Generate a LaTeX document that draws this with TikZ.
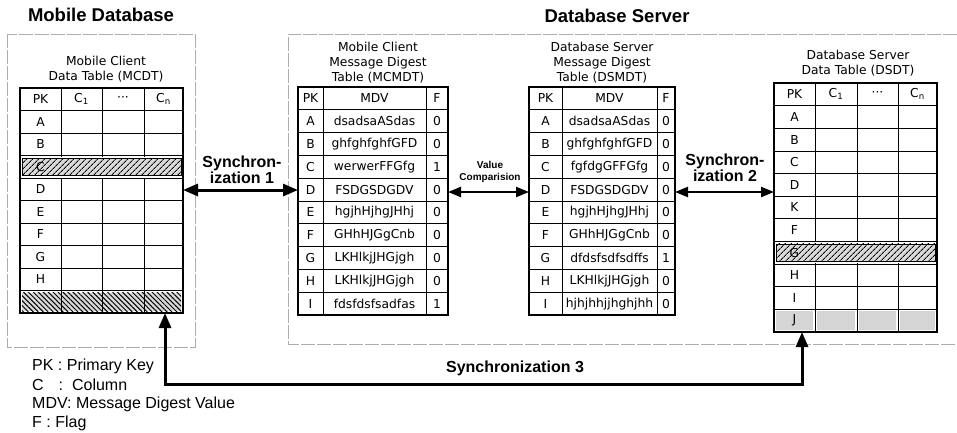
\documentclass[tikz,border=0pt]{standalone}
\usepackage{fontspec}
\setmainfont{Liberation Sans}
\newfontfamily\cellfont{DejaVu Sans}
\usetikzlibrary{arrows.meta,patterns.meta}

\begin{document}
\begin{tikzpicture}[x=1pt,y=-1pt,
  tblframe/.style={draw, line width=2.3pt, inner sep=0pt, outer sep=0pt, anchor=north west},
  tblrule/.style={line width=0.8pt},
  cellt/.style={font=\cellfont\fontsize{12.3}{13}\selectfont, inner sep=0pt},
  capt/.style={font=\cellfont\fontsize{12.3}{15}\selectfont, align=center, inner sep=0pt},
  zone/.style={draw=gray!65, line width=0.8pt, dash pattern=on 14pt off 2pt},
  heading/.style={font=\bfseries\fontsize{18.5}{21}\selectfont, inner sep=0pt},
  synclbl/.style={font=\bfseries\fontsize{16}{16.5}\selectfont, align=center, inner sep=0pt},
  smalllbl/.style={font=\bfseries\fontsize{10}{12}\selectfont, align=center, inner sep=0pt},
  legend/.style={font=\fontsize{16}{19}\selectfont, inner sep=0pt, anchor=west},
  syncarrow/.style={line width=3pt, {Triangle[length=15pt,width=12pt]}-{Triangle[length=15pt,width=12pt]}},
  thinarrow/.style={line width=2.2pt, {Triangle[length=13pt,width=10pt]}-{Triangle[length=13pt,width=10pt]}},
  bandfill/.style={fill=gray!30},
  hatchup/.style={pattern={Lines[angle=45,distance=4pt,line width=0.9pt]}},
  hatchdown/.style={pattern={Lines[angle=-45,distance=3.5pt,line width=1pt]}},
  stipple/.style={pattern={Dots[distance=2pt,radius=0.35pt]}, pattern color=gray!80},
]
\useasboundingbox (0,0) rectangle (957,432);
\fill[white] (0,0) rectangle (957,432);

% group outlines and their headings
\draw[zone] (7,34) rectangle (195,347);
\draw[zone] (957,34) -- (288,34) -- (288,344) -- (957,344);
\node[heading] (hmobile) at (101,15) {Mobile Database};
\node[heading] (hserver) at (617,16) {Database Server};

% ---------------- Mobile Client Data Table ----------------
\node[capt] (cap-mcdt) at (106,69.5) {Mobile Client\\Data Table (MCDT)};
\foreach \k in {1,...,9} \draw[tblrule] (20,{88+22.5*\k}) -- (183,{88+22.5*\k});
\foreach \xx in {61,102,144} \draw[tblrule] (\xx,88) -- (\xx,313);
% deleted row C
\fill[white] (21,156.5) rectangle (182,177.5);
\fill[bandfill] (22,158) rectangle (181,175.5);
\fill[hatchup] (22,158) rectangle (181,175.5);
\draw[line width=0.5pt] (22,158) rectangle (181,175.5);
% inserted last row
\fill[bandfill] (22,292.5) rectangle (181,311);
\fill[hatchdown] (22,292.5) rectangle (181,311);
\foreach \xx in {61,102,144} \draw[tblrule] (\xx,290.5) -- (\xx,313);
\node[tblframe, minimum width=163pt, minimum height=225pt] (mcdt) at (20,88) {};
\node[cellt] (mcdt-h1) at (40.5,99.25) {PK};
\node[cellt] (mcdt-h2) at (81.5,99.25) {C\textsubscript{1}};
\node[cellt] (mcdt-h3) at (123,99.25) {···};
\node[cellt] (mcdt-h4) at (163.5,99.25) {C\textsubscript{n}};
\foreach \t [count=\k] in {A,B,C,D,E,F,G,H}
  \node[cellt] (mcdt-\k) at (40.5,{88+22.5*\k+11.25}) {\t};

% ---------------- Mobile Client Message Digest Table ----------------
\node[capt] (cap-mcmdt) at (378,63) {Mobile Client\\Message Digest\\Table (MCMDT)};
\foreach \k in {1,...,9} \draw[tblrule] (298,{87+22.8*\k}) -- (448,{87+22.8*\k});
\foreach \xx in {323,426} \draw[tblrule] (\xx,87) -- (\xx,315);
\node[tblframe, minimum width=150pt, minimum height=228pt] (mcmdt) at (298,87) {};
\node[cellt] (mcmdt-h1) at (310.5,98.4) {PK};
\node[cellt] (mcmdt-h2) at (374.5,98.4) {MDV};
\node[cellt] (mcmdt-h3) at (437,98.4) {F};
\foreach \p/\v/\f [count=\k] in {A/dsadsaASdas/0, B/ghfghfghfGFD/0, C/werwerFFGfg/1,
    D/FSDGSDGDV/0, E/hgjhHjhgJHhj/0, F/GHhHJGgCnb/0, G/LKHlkjJHGjgh/0,
    H/LKHlkjJHGjgh/0, I/fdsfdsfsadfas/1} {
  \node[cellt] (mcmdt-pk\k) at (310.5,{87+22.8*\k+11.4}) {\p};
  \node[cellt] (mcmdt-v\k) at (374.5,{87+22.8*\k+11.4}) {\v};
  \node[cellt] (mcmdt-f\k) at (437,{87+22.8*\k+11.4}) {\f};
}

% ---------------- Database Server Message Digest Table ----------------
\node[capt] (cap-dsmdt) at (602,63) {Database Server\\Message Digest\\Table (DSMDT)};
\foreach \k in {1,...,9} \draw[tblrule] (529,{87+22.8*\k}) -- (675,{87+22.8*\k});
\foreach \xx in {562,657} \draw[tblrule] (\xx,87) -- (\xx,315);
\node[tblframe, minimum width=146pt, minimum height=228pt] (dsmdt) at (529,87) {};
\node[cellt] (dsmdt-h1) at (545.5,98.4) {PK};
\node[cellt] (dsmdt-h2) at (609.5,98.4) {MDV};
\node[cellt] (dsmdt-h3) at (666,98.4) {F};
\foreach \p/\v/\f [count=\k] in {A/dsadsaASdas/0, B/ghfghfghfGFD/0, C/fgfdgGFFGfg/0,
    D/FSDGSDGDV/0, E/hgjhHjhgJHhj/0, F/GHhHJGgCnb/0, G/dfdsfsdfsdffs/1,
    H/LKHlkjJHGjgh/0, I/hjhjhhjjhghjhh/0} {
  \node[cellt] (dsmdt-pk\k) at (545.5,{87+22.8*\k+11.4}) {\p};
  \node[cellt] (dsmdt-v\k) at (609.5,{87+22.8*\k+11.4}) {\v};
  \node[cellt] (dsmdt-f\k) at (666,{87+22.8*\k+11.4}) {\f};
}

% ---------------- Database Server Data Table ----------------
\node[capt] (cap-dsdt) at (858,63.5) {Database Server\\Data Table (DSDT)};
% inserted row J (stippled cells)
\foreach \xa/\xb in {774/815,815/857,857/898,898/937} {
  \fill[gray!28] ({\xa+2},{83+22.636*10+2}) rectangle ({\xb-2},{83+22.636*11-2});
  \fill[stipple] ({\xa+2},{83+22.636*10+2}) rectangle ({\xb-2},{83+22.636*11-2});
}
\foreach \k in {1,...,10} \draw[tblrule] (774,{83+22.636*\k}) -- (937,{83+22.636*\k});
\foreach \xx in {815,857,898} \draw[tblrule] (\xx,83) -- (\xx,332);
% deleted row G
\fill[white] (775,{83+22.636*7+1}) rectangle (936,{83+22.636*8-1});
\fill[bandfill] (776,{83+22.636*7+2.5}) rectangle (935,{83+22.636*8-2.5});
\fill[hatchup] (776,{83+22.636*7+2.5}) rectangle (935,{83+22.636*8-2.5});
\draw[line width=0.5pt] (776,{83+22.636*7+2.5}) rectangle (935,{83+22.636*8-2.5});
\node[tblframe, minimum width=163pt, minimum height=249pt] (dsdt) at (774,83) {};
\node[cellt] (dsdt-h1) at (794.5,94.3) {PK};
\node[cellt] (dsdt-h2) at (836,94.3) {C\textsubscript{1}};
\node[cellt] (dsdt-h3) at (877.5,94.3) {···};
\node[cellt] (dsdt-h4) at (917.5,94.3) {C\textsubscript{n}};
\foreach \t [count=\k] in {A,B,C,D,K,F,G,H,I,J}
  \node[cellt] (dsdt-\k) at (794.5,{83+22.636*\k+11.318}) {\t};

% ---------------- synchronisation connectors ----------------
\draw[syncarrow] (mcdt.east |- 0,190) -- (mcmdt.west |- 0,190);
\node[synclbl] (lbl-s1) at (242,170) {Synchron-\\ization 1};

\draw[thinarrow] (mcmdt.east |- 0,192) -- (dsmdt.west |- 0,192);
\node[smalllbl] (lbl-vc) at (490,172) {Value\\Comparision};

\draw[thinarrow] (dsmdt.east |- 0,192) -- (dsdt.west |- 0,192);
\node[synclbl] (lbl-s2) at (725,168) {Synchron-\\ization 2};

\coordinate (s3left) at (165,384);
\coordinate (s3right) at (802,384);
\draw[syncarrow] (mcdt.south -| s3left) -- (s3left) -- (s3right) -- (dsdt.south -| s3right);
\node[synclbl] (lbl-s3) at (515,368) {Synchronization 3};

% ---------------- legend ----------------
\node[legend] (lg1) at (32,366) {PK : Primary Key};
\node[legend] (lg2) at (32,385) {C\hspace{15pt}: \ Column};
\node[legend] (lg3) at (32,404) {MDV: Message Digest Value};
\node[legend] (lg4) at (32,423) {F : Flag};
\end{tikzpicture}
\end{document}
